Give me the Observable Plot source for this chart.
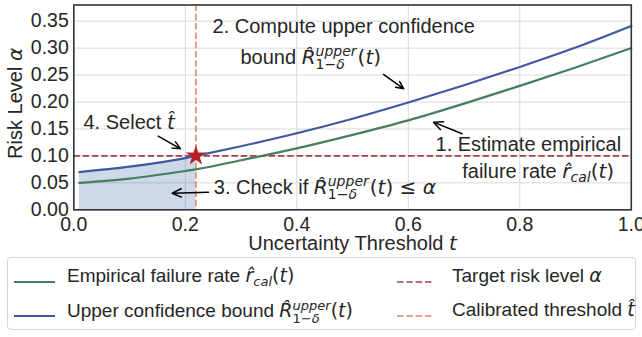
<!DOCTYPE html>
<html><head><meta charset="utf-8">
<script src="https://cdn.jsdelivr.net/npm/d3@7"></script>
<script src="https://cdn.jsdelivr.net/npm/@observablehq/plot@0.6"></script>
<style>
body{margin:0;background:#fff;font-family:"Liberation Sans",Arial,sans-serif;color:#262626;}
#wrap{position:relative;width:642px;height:337px;overflow:hidden;}
#legend{position:absolute;left:7px;top:257px;width:629px;height:73px;border:1px solid #d6d6d6;border-radius:4px;box-sizing:border-box;}
.item{position:absolute;font-size:19px;line-height:20px;white-space:nowrap;}
.sw{position:absolute;}
.m{font-family:"DejaVu Sans";font-style:italic;}
.r{font-family:"DejaVu Sans";}
.ss{display:inline-flex;flex-direction:column;font-size:13px;line-height:13px;vertical-align:7px;font-family:"DejaVu Sans";}
.sb{font-size:13px;position:relative;top:4px;}
</style></head><body><div id="wrap"><div id="chart"></div><div id="legend"></div></div>
<script>
// ---- data ----
const tValues       = [0.01, 0.1, 0.2, 0.219, 0.3, 0.4, 0.5, 0.6, 0.7, 0.8, 0.9, 1.0];
const empiricalRate = [0.050, 0.058, 0.072, 0.075, 0.092, 0.114, 0.139, 0.166, 0.197, 0.230, 0.264, 0.300];
const upperBound    = [0.070, 0.080, 0.096, 0.100, 0.118, 0.142, 0.169, 0.199, 0.231, 0.265, 0.301, 0.341];
const alpha = 0.10;
const tHat = 0.219;
const xTicks = [0, 0.2, 0.4, 0.6, 0.8, 1.0];
const yTicks = [0, 0.05, 0.10, 0.15, 0.20, 0.25, 0.30, 0.35];

// annotations (data coordinates)
const noteText = ["2. Compute upper confidence", "bound R(t)", "1. Estimate empirical", "failure rate r(t)", "3. Check if R(t) ≤ α", "4. Select t"];
const noteX    = [0.2488, 0.2990, 0.6488, 0.6967, 0.2511, 0.0174];
const noteY    = [0.3401, 0.2821, 0.1219, 0.0716, 0.0408, 0.1626];
const arrowX1 = [0.5555, 0.6966, 0.2416, 0.1514];
const arrowY1 = [0.2511, 0.1410, 0.0327, 0.1366];
const arrowX2 = [0.5919, 0.6452, 0.1765, 0.1914];
const arrowY2 = [0.2245, 0.1626, 0.0308, 0.1132];

const green = "#477e60", blue = "#3d5a9f", red = "#a0424a", orange = "#e0875a", star = "#b8202a";

const data = tValues.map((t, i) => ({t, emp: empiricalRate[i], up: upperBound[i]}));
const fillData = data.filter(d => d.t <= tHat);
const notes = noteText.map((s, i) => ({s, x: noteX[i], y: noteY[i]}));
const arrows = arrowX1.map((_, i) => ({x1: arrowX1[i], y1: arrowY1[i], x2: arrowX2[i], y2: arrowY2[i]}));

const H = 254;
const plot = Plot.plot({
  width: 642, height: H,
  marginLeft: 73.3, marginRight: 11.2, marginTop: 4.5, marginBottom: H - 209.3,
  x: {domain: [0, 1]},
  y: {domain: [0, 0.38]},
  style: {fontFamily: "Liberation Sans, Arial, sans-serif", color: "#262626", background: "#fff", overflow: "visible"},
  marks: [
    Plot.gridX(xTicks, {stroke: "#d9d9d9", strokeOpacity: 1, strokeWidth: 1}),
    Plot.gridY(yTicks, {stroke: "#d9d9d9", strokeOpacity: 1, strokeWidth: 1}),
    Plot.areaY(fillData, {x: "t", y: "up", fill: "#4c72b0", fillOpacity: 0.28, curve: "monotone-x"}),
    Plot.ruleY([alpha], {stroke: red, strokeWidth: 1.6, strokeDasharray: "6.5,2.8"}),
    Plot.ruleX([tHat], {stroke: orange, strokeWidth: 1.6, strokeDasharray: "6.5,2.8"}),
    Plot.line(data, {x: "t", y: "emp", stroke: green, strokeWidth: 2.2, curve: "monotone-x"}),
    Plot.line(data, {x: "t", y: "up", stroke: blue, strokeWidth: 2.2, curve: "monotone-x"}),
    Plot.dot([{t: tHat, y: alpha}], {x: "t", y: "y", symbol: "star", r: 6.4, fill: star, stroke: "none"}),
    Plot.arrow(arrows, {x1: "x1", y1: "y1", x2: "x2", y2: "y2", stroke: "#000", strokeWidth: 1.5, headLength: 10, headAngle: 50}),
    Plot.text(notes, {x: "x", y: "y", text: "s", textAnchor: "start", lineAnchor: "middle", fontSize: 20, fill: "#262626"}),
    Plot.axisX(xTicks, {tickSize: 0, tickPadding: 7, tickFormat: d3.format(".1f"), fontSize: 19.5, label: null, fill: "#262626"}),
    Plot.axisY(yTicks, {tickSize: 0, tickPadding: 5, tickFormat: d3.format(".2f"), fontSize: 19.5, label: null, fill: "#262626"}),
    Plot.frame({stroke: "#333", strokeWidth: 1.6}),
    Plot.text(["Uncertainty Threshold t"], {frameAnchor: "bottom", dy: 34, textAnchor: "middle", lineAnchor: "middle", fontSize: 20, fill: "#262626"}),
    Plot.text(["Risk Level α"], {frameAnchor: "left", dx: -58, dy: -4, rotate: -90, textAnchor: "middle", lineAnchor: "middle", fontSize: 20, fill: "#262626"})
  ]
});

const M = 'font-family="DejaVu Sans" font-style="italic"';
const R = 'font-family="DejaVu Sans"';
const supsub = `<tspan class="sup" ${M} font-size="14" dy="-8">upper</tspan><tspan class="sub" font-size="14" dy="13"><tspan ${R}>1−</tspan><tspan ${M}>δ</tspan></tspan><tspan ${R} dy="-5">(</tspan><tspan ${M}>t</tspan><tspan ${R}>)</tspan>`;
const rich = {
  "bound R(t)": `bound <tspan ${M}>R̂</tspan>` + supsub,
  "failure rate r(t)": `failure rate <tspan ${M}>r̂</tspan><tspan ${M} font-size="14" dy="4">cal</tspan><tspan ${R} dy="-4">(</tspan><tspan ${M}>t</tspan><tspan ${R}>)</tspan>`,
  "3. Check if R(t) ≤ α": `3. Check if <tspan ${M}>R̂</tspan>` + supsub + `<tspan ${R}> ≤ </tspan><tspan ${M}>α</tspan>`,
  "4. Select t": `4. Select <tspan ${M}>t̂</tspan>`,
  "Uncertainty Threshold t": `Uncertainty Threshold <tspan ${M}>t</tspan>`,
  "Risk Level α": `Risk Level <tspan ${M}>α</tspan>`
};
d3.select(plot).selectAll("text").each(function() {
  const k = this.textContent;
  if (rich[k]) this.innerHTML = rich[k];
});
document.getElementById("chart").append(plot);
d3.select(plot).selectAll("tspan.sup").each(function() {
  const sub = this.nextElementSibling;
  const after = sub.nextElementSibling;
  const a = this.getComputedTextLength(), b = sub.getComputedTextLength();
  sub.setAttribute("dx", -a);
  if (after) after.setAttribute("dx", Math.max(0, a - b) + 1);
});

// ---- legend ----
const legendItems = [
  {x: 6, y: 18, color: green, dash: null, html: 'Empirical failure rate <span class="m">r̂</span><span class="m sb">cal</span><span class="r">(</span><span class="m">t</span><span class="r">)</span>'},
  {x: 6, y: 52, color: blue, dash: null, html: 'Upper confidence bound <span class="m">R̂</span><span class="ss"><span class="m">upper</span><span><span class="r">1−</span><span class="m">δ</span></span></span><span class="r">(</span><span class="m">t</span><span class="r">)</span>'},
  {x: 389, y: 18, color: red, dash: "6.5,2.8", html: 'Target risk level <span class="m">α</span>'},
  {x: 389, y: 52, color: orange, dash: "6.5,2.8", html: 'Calibrated threshold <span class="m">t̂</span>'}
];
const leg = document.getElementById("legend");
for (const it of legendItems) {
  const w = it.dash ? 36 : 41;
  const sw = document.createElement("div");
  sw.className = "sw";
  sw.style.left = it.x + "px"; sw.style.top = (it.y - 4) + "px";
  sw.innerHTML = `<svg width="${w}" height="8"><line x1="0" x2="${w}" y1="4" y2="4" stroke="${it.color}" stroke-width="${it.dash ? 1.6 : 2.2}" ${it.dash ? `stroke-dasharray="${it.dash}"` : ""}/></svg>`;
  leg.append(sw);
  const tx = document.createElement("div");
  tx.className = "item";
  tx.style.left = (it.x + (it.dash ? 55 : 53)) + "px"; tx.style.top = (it.y - 11) + "px";
  tx.innerHTML = it.html;
  leg.append(tx);
}
</script></body></html>
